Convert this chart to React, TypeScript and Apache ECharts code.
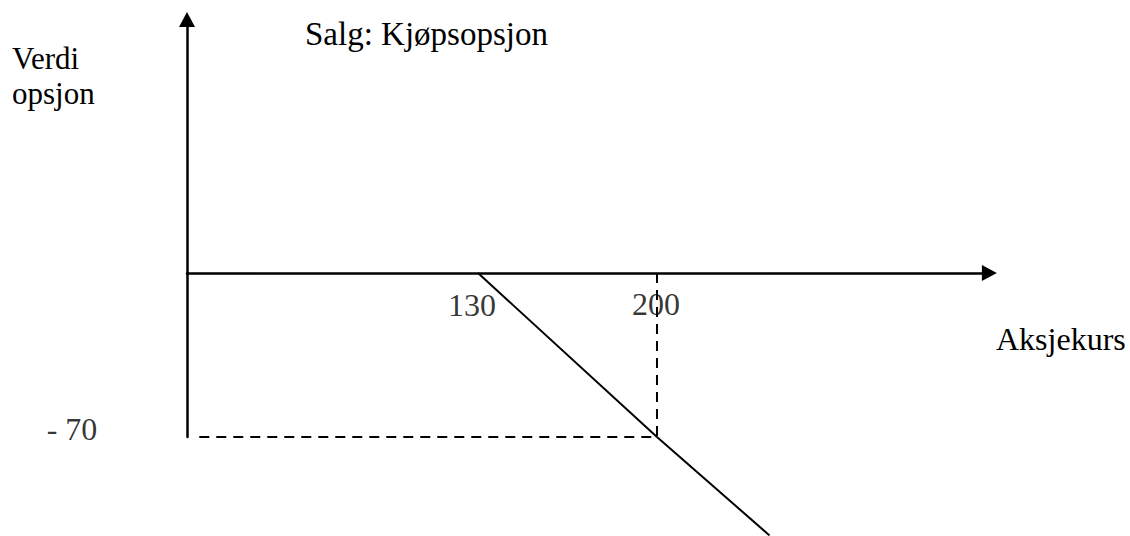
import React, { useEffect, useRef } from 'react';
import * as echarts from 'echarts';

// Data
const payoffPrice = [130, 200, 244];
const payoffValue = [0, -70, -112];
const markPrice = 200;
const markValue = -70;
const guideStart = 21;
const xTickValues = [130, 200];
const xTickLabels = ['130', '200'];
const yTickValues = [-70];
const yTickLabels = ['- 70'];
const titleText = 'Salg: Kjøpsopsjon';
const xName = 'Aksjekurs';
const yName = ['Verdi', 'opsjon'];

// Axis extents
const xMin = 16.2;
const xMax = 330;
const yMin = -70;
const yMax = 108.2;

const FONT = "'Liberation Serif', 'Times New Roman', serif";
const FS = 32;

// Label offsets (style)
const xTickOffsets = [[-6, 32], [-1, 31]];
const yTickOffsets = [[-115, -8]];

export default function App() {
  const ref = useRef<HTMLDivElement>(null);
  useEffect(() => {
    if (!ref.current) return;
    const chart = echarts.init(ref.current, null, { renderer: 'svg' });
    const labelData = [
      ...xTickValues.map((v, i) => ({
        value: [v, 0],
        name: xTickLabels[i],
        label: { offset: xTickOffsets[i] },
      })),
      ...yTickValues.map((v, i) => ({
        value: [xMin, v],
        name: yTickLabels[i],
        label: { offset: yTickOffsets[i] },
      })),
    ];
    const mkTitle = (text: string, left: number, top: number, size = FS, lh = 30) => ({
      text,
      left,
      top,
      padding: 0,
      textStyle: {
        color: '#000',
        fontFamily: FONT,
        fontSize: size,
        fontWeight: 'normal' as const,
        lineHeight: lh,
      },
    });
    chart.setOption({
      animation: false,
      backgroundColor: '#fff',
      title: [
        mkTitle(titleText, 305, 19, 33),
        mkTitle(xName, 996, 324),
        mkTitle(yName[0], 12, 43, 31),
        mkTitle(yName[1], 12, 78, 31),
      ],
      grid: { left: 187, right: 140.6, top: 19.5, bottom: 99, containLabel: false },
      xAxis: {
        type: 'value',
        min: xMin,
        max: xMax,
        axisLine: {
          onZero: true,
          lineStyle: { color: '#000', width: 2.5 },
          symbol: ['none', 'triangle'],
          symbolSize: [16, 15],
        },
        axisTick: { show: false },
        axisLabel: { show: false },
        splitLine: { show: false },
      },
      yAxis: {
        type: 'value',
        min: yMin,
        max: yMax,
        axisLine: {
          show: true,
          onZero: false,
          lineStyle: { color: '#000', width: 2.5 },
          symbol: ['none', 'triangle'],
          symbolSize: [16, 15],
        },
        axisTick: { show: false },
        axisLabel: { show: false },
        splitLine: { show: false },
      },
      series: [
        {
          type: 'line',
          data: payoffPrice.map((p, i) => [p, payoffValue[i]]),
          symbol: 'none',
          clip: false,
          lineStyle: { color: '#000', width: 2 },
          z: 3,
        },
        {
          type: 'line',
          data: [[guideStart, markValue], [markPrice, markValue]],
          symbol: 'none',
          clip: false,
          lineStyle: { color: '#000', width: 2, type: [10, 7] },
        },
        {
          type: 'line',
          data: [[markPrice, 0], [markPrice, markValue]],
          symbol: 'none',
          clip: false,
          lineStyle: { color: '#000', width: 2, type: [10, 7] },
        },
        {
          type: 'scatter',
          data: labelData,
          symbolSize: 0,
          clip: false,
          silent: true,
          label: {
            show: true,
            position: 'inside',
            formatter: (p: any) => p.name,
            color: '#000',
            textBorderWidth: 0,
            fontFamily: FONT,
            fontSize: FS,
            align: 'center',
            verticalAlign: 'middle',
          },
          z: 5,
        },
      ],
    });
    return () => chart.dispose();
  }, []);
  return (
    <div
      ref={ref}
      style={{ position: 'fixed', left: 0, top: 0, width: 1130, height: 536, background: '#fff' }}
    />
  );
}
